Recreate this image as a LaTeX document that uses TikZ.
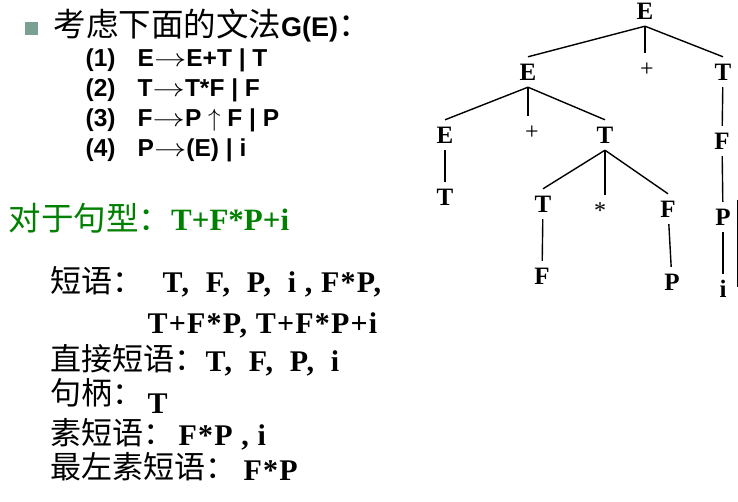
\documentclass[tikz,border=0pt]{standalone}
\usepackage{fontspec}
\setmainfont{Liberation Serif}
\setsansfont{Liberation Sans}
\newfontfamily\cjk{Noto Sans CJK SC}
\definecolor{sentgreen}{RGB}{0,128,0}
\definecolor{bulletgray}{RGB}{122,160,146}
\newcommand{\arr}{\scalebox{1.3}[1]{$\rightarrow$}}
\newcommand{\cn}[2][31]{{\cjk\fontsize{#1}{#1}\selectfont #2}}

\begin{document}
\begin{tikzpicture}[x=1pt, y=-1pt, line width=1.4pt,
  sym/.style = {font=\bfseries\fontsize{25}{25}\selectfont, inner xsep=2pt, inner ysep=6pt, text height=17pt, text depth=0pt},
  op/.style = {font=\fontsize{24}{24}\selectfont, inner xsep=2pt, inner ysep=6pt, text height=17pt, text depth=0pt},
  txt/.style = {anchor=base west, inner sep=0pt},
  rule/.style = {txt, font=\sffamily\bfseries\fontsize{24.5}{24.5}\selectfont},
  val/.style = {txt, font=\bfseries\fontsize{30}{30}\selectfont\addfontfeature{LetterSpace=4}}]
\useasboundingbox (0,0) rectangle (738,502);

% grammar
\fill[bulletgray] (25,22) rectangle (38,35);
\node[txt] (head) at (53,37) {\cn[32.5]{考虑下面的文法}{\sffamily\bfseries\fontsize{27}{27}\selectfont G(E)}\cn[32.5]{：}};
\node[rule] (rule1) at (85,67) {\makebox[52pt][l]{(1)}E\arr E+T | T};
\node[rule] (rule2) at (85,97) {\makebox[52pt][l]{(2)}T\arr T*F | F};
\node[rule] (rule3) at (85,127) {\makebox[52pt][l]{(3)}F\arr P $\uparrow$ F | P};
\node[rule] (rule4) at (85,157) {\makebox[52pt][l]{(4)}P\arr (E) | i};

% sentential form
\node[txt, text=sentgreen] (form) at (8,231) {\cn[32.5]{对于句型：}{\bfseries\fontsize{31}{31}\selectfont T+F*P+i}};

% phrases
\node[txt] (lbl1) at (50,292) {\cn{短语：}};
\node[val] (val1) at (162,293) {T,\hspace{8pt} F,\hspace{8pt} P,\hspace{8pt} i , F*P,};
\node[val] (val2) at (147,333) {T+F*P, T+F*P+i};
\node[txt] (lbl3) at (50,370) {\cn{直接短语：}};
\node[val] (val3) at (205,371) {T,\hspace{8pt} F,\hspace{8pt} P,\hspace{8pt} i};
\node[txt] (lbl4) at (50,404) {\cn{句柄：}};
\node[val] (val4) at (147,413) {T};
\node[txt] (lbl5) at (50,444) {\cn{素短语：}};
\node[val] (val5) at (178,445) {F*P , i};
\node[txt] (lbl6) at (50,478) {\cn{最左素短语：}};
\node[val] (val6) at (243,480) {F*P};

% syntax tree
\node[sym] (root) at (645,11) {E};
\node[sym] (E1) at (528,72) {E};
\node[op] (plus1) at (647,68) {+};
\node[sym] (T1) at (723,72) {T};
\node[sym] (E2) at (445,135) {E};
\node[op] (plus2) at (532,131) {+};
\node[sym] (T2) at (605,135) {T};
\node[sym] (F1) at (722,141) {F};
\node[sym] (T3) at (445,197) {T};
\node[sym] (T4) at (543,204) {T};
\node[op] (star) at (600,210) {*};
\node[sym] (F2) at (668,209) {F};
\node[sym] (P1) at (723,217) {P};
\node[sym] (F3) at (542,276) {F};
\node[sym] (P2) at (672,282) {P};
\node[sym] (i1) at (723,289) {i};
\draw (root.south) -- (E1.north);
\draw (root.south) -- (root.south |- plus1.north);
\draw (root.south) -- (T1.north);
\draw (E1.south) -- (E2.north);
\draw (E1.south) -- (E1.south |- plus2.north);
\draw (E1.south) -- (T2.north);
\draw (T1) -- (F1);
\draw (F1) -- (P1);
\draw (P1) -- (i1);
\draw (E2) -- (T3);
\draw (T2.south) -- (T4.north);
\draw (T2.south) -- (T2.south |- star.north);
\draw (T2.south) -- (F2.north);
\draw (T4) -- (F3);
\draw (F2) -- (P2);
\coordinate (bartop) at (737,200);
\coordinate (barbot) at (737,287);
\draw[line width=1pt] (bartop) -- (barbot);
\end{tikzpicture}
\end{document}
